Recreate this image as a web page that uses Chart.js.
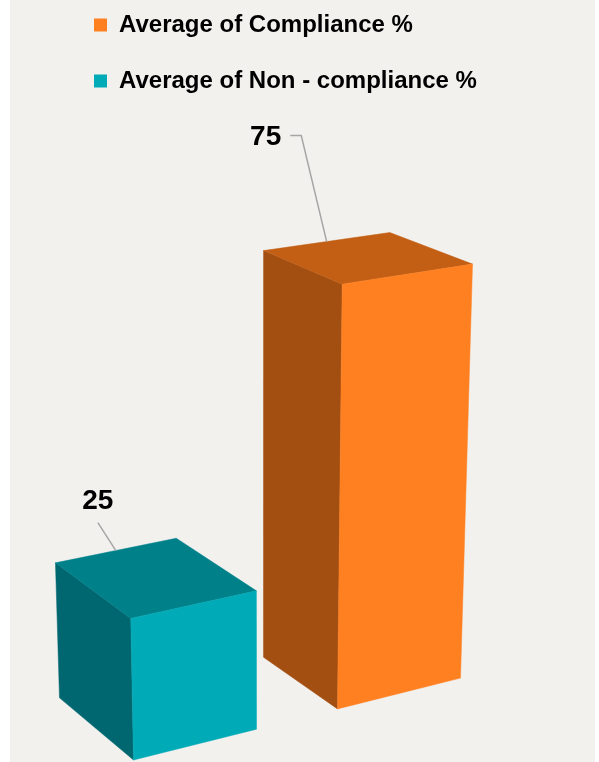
<!DOCTYPE html>
<html>
<head>
<meta charset="utf-8">
<script src="https://cdn.jsdelivr.net/npm/chart.js@4.4.1/dist/chart.umd.min.js"></script>
<style>
  html, body { margin: 0; padding: 0; background: #ffffff; }
  #wrap { width: 599px; height: 762px; }
</style>
</head>
<body>
<div id="wrap"><canvas id="myChart" width="599" height="762"></canvas></div>
<script>
let labels = ['Average of Non - compliance %', 'Average of Compliance %'];
let values = [25, 75];
let frontColors = ['#00aab7', '#ff8021'];
let topColors = ['#00818a', '#c35f15'];
let sideColors = ['#00666f', '#a34f12'];

// where each value label sits, relative to the back edge of the box top
let labelShift = [[-18, -49], [-61, -104]];

// vanishing points, relative to the left end of the ground line
function vanish(x0, base) {
    return {
        right: { x: x0 + 4580, y: base - 1147 },
        back: { x: x0 - 1366, y: base - 1147 },
        down: { x: x0 + 129, y: base + 6740 }
    };
}

function meet(a1, a2, b1, b2) {
    let d = (a1.x - a2.x) * (b1.y - b2.y) - (a1.y - a2.y) * (b1.x - b2.x);
    let t = ((a1.x - b1.x) * (b1.y - b2.y) - (a1.y - b1.y) * (b1.x - b2.x)) / d;
    return { x: a1.x + t * (a2.x - a1.x), y: a1.y + t * (a2.y - a1.y) };
}

function poly(ctx, pts, color) {
    ctx.beginPath();
    ctx.moveTo(pts[0].x, pts[0].y);
    for (let i = 1; i < pts.length; i++) ctx.lineTo(pts[i].x, pts[i].y);
    ctx.closePath();
    ctx.fillStyle = color;
    ctx.fill();
    ctx.strokeStyle = color;
    ctx.lineWidth = 0.5;
    ctx.stroke();
}

const boxes3d = {
    id: 'boxes3d',
    beforeDraw(chart) {
        let ctx = chart.ctx;
        ctx.save();
        ctx.fillStyle = '#f2f1ee';
        ctx.fillRect(10, 0, 585, chart.height);
        ctx.restore();
    },
    beforeDatasetsDraw(chart) {
        let ctx = chart.ctx;
        let bars = chart.getDatasetMeta(0).data;
        let base = chart.chartArea.bottom;
        let x0 = bars[0].x - bars[0].width / 2;
        let vp = vanish(x0, base);
        let slope = (vp.right.y - base) / (vp.right.x - x0);
        let depth = 74;

        let shapes = bars.map((bar, i) => {
            let left = bar.x - bar.width / 2;
            let right = bar.x + bar.width / 2;
            let h = bar.base - bar.y;
            let g = { x: left, y: base + (left - x0) * slope };
            let rb = { x: right, y: base + (right - x0) * slope };
            let k = h / (vp.down.y - g.y);
            let t = { x: g.x + (g.x - vp.down.x) * k, y: g.y - h };
            let backSlope = (vp.back.y - g.y) / (vp.back.x - g.x);
            let lb = { x: g.x - depth, y: g.y - depth * backSlope };
            let rt = meet(t, vp.right, rb, vp.down);
            let lt = meet(t, vp.back, lb, vp.down);
            let bt = meet(lt, vp.right, rt, vp.back);
            return { g, rb, t, lb, rt, lt, bt, i };
        });

        // farther box first
        for (let s of shapes.slice().reverse()) {
            poly(ctx, [s.lb, s.g, s.t, s.lt], sideColors[s.i]);
            poly(ctx, [s.t, s.rt, s.bt, s.lt], topColors[s.i]);
            poly(ctx, [s.g, s.rb, s.rt, s.t], frontColors[s.i]);
        }

        // value labels with leader lines
        ctx.save();
        ctx.font = 'bold 28px "Liberation Sans", Arial, sans-serif';
        ctx.textAlign = 'center';
        ctx.textBaseline = 'middle';
        for (let s of shapes) {
            let anchor = { x: (s.lt.x + s.bt.x) / 2, y: (s.lt.y + s.bt.y) / 2 };
            let lx = anchor.x + labelShift[s.i][0];
            let ly = anchor.y + labelShift[s.i][1];
            let text = String(values[s.i]);
            let w = ctx.measureText(text).width;
            ctx.strokeStyle = '#a6a6a6';
            ctx.lineWidth = 1.5;
            ctx.beginPath();
            if (anchor.x > lx + w / 2 + 10) {
                ctx.moveTo(lx + w / 2 + 9, ly - 2);
                ctx.lineTo(lx + w / 2 + 20, ly - 2);
            } else {
                ctx.moveTo(lx, ly + 21);
            }
            ctx.lineTo(anchor.x, anchor.y);
            ctx.stroke();
            ctx.fillStyle = '#000000';
            ctx.fillText(text, lx, ly);
        }
        ctx.restore();
        return false;
    }
};

let ctx = document.getElementById('myChart').getContext('2d');

let myChart = new Chart(ctx, {
    type: 'bar',
    data: {
        labels: labels,
        datasets: [{
            data: values,
            backgroundColor: frontColors,
            barPercentage: 0.603,
            categoryPercentage: 1
        }]
    },
    options: {
        responsive: false,
        animation: false,
        layout: {
            padding: { top: -19, left: 62, right: 98, bottom: 2 }
        },
        scales: {
            x: {
                display: false
            },
            y: {
                min: 0,
                max: 116,
                ticks: { display: false },
                grid: { display: false },
                border: { display: false },
                afterFit(scale) {
                    scale.width = 31;
                }
            }
        },
        plugins: {
            tooltip: { enabled: false },
            legend: {
                position: 'top',
                align: 'start',
                labels: {
                    boxWidth: 13,
                    boxHeight: 13,
                    padding: 32,
                    color: '#000000',
                    font: { family: '"Liberation Sans", Arial, sans-serif', size: 24, weight: 'bold' },
                    generateLabels(chart) {
                        return chart.data.labels.map((text, i) => ({
                            text: text,
                            fillStyle: frontColors[i],
                            strokeStyle: frontColors[i],
                            lineWidth: 0,
                            hidden: false,
                            index: i
                        })).reverse();
                    }
                }
            }
        }
    },
    plugins: [boxes3d]
});
</script>
</body>
</html>
